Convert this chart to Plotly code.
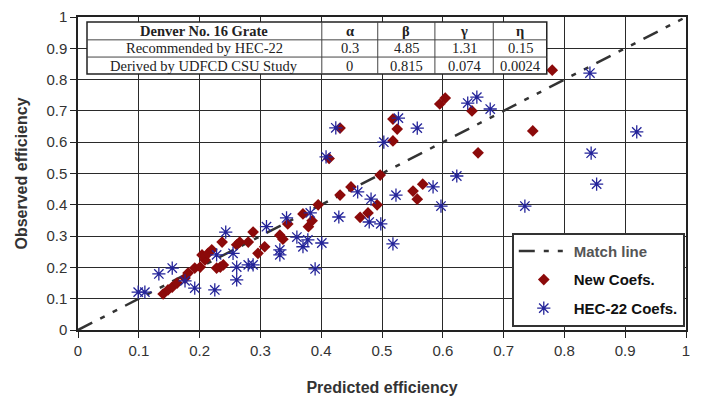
import plotly.graph_objects as go

# ---------------- data ----------------
new_x = [0.140, 0.148, 0.155, 0.163, 0.176, 0.181, 0.192, 0.201, 0.209, 0.204,
         0.214, 0.220, 0.228, 0.234, 0.239, 0.237, 0.261, 0.266, 0.280, 0.288,
         0.296, 0.307, 0.332, 0.337, 0.345, 0.370, 0.379, 0.385, 0.395, 0.413,
         0.431, 0.431, 0.449, 0.464, 0.477, 0.492, 0.497, 0.518, 0.518, 0.525,
         0.551, 0.558, 0.567, 0.595, 0.604, 0.648, 0.658, 0.748, 0.780]
new_y = [0.115, 0.128, 0.137, 0.150, 0.166, 0.182, 0.198, 0.201, 0.224, 0.240,
         0.245, 0.256, 0.198, 0.201, 0.208, 0.281, 0.272, 0.281, 0.281, 0.313,
         0.245, 0.266, 0.303, 0.290, 0.339, 0.371, 0.330, 0.349, 0.400, 0.548,
         0.645, 0.431, 0.457, 0.360, 0.374, 0.400, 0.495, 0.604, 0.674, 0.642,
         0.444, 0.418, 0.466, 0.722, 0.741, 0.700, 0.566, 0.636, 0.830]

hec_x = [0.099, 0.110, 0.133, 0.155, 0.176, 0.192, 0.225, 0.228, 0.243, 0.255,
         0.261, 0.261, 0.280, 0.288, 0.310, 0.332, 0.332, 0.343, 0.360, 0.370,
         0.378, 0.382, 0.390, 0.401, 0.408, 0.424, 0.429, 0.460, 0.479, 0.482,
         0.498, 0.503, 0.518, 0.523, 0.527, 0.558, 0.584, 0.597, 0.623, 0.641,
         0.656, 0.678, 0.735, 0.842, 0.844, 0.853, 0.919]
hec_y = [0.121, 0.121, 0.179, 0.198, 0.157, 0.134, 0.128, 0.240, 0.313, 0.245,
         0.201, 0.160, 0.208, 0.208, 0.330, 0.256, 0.240, 0.358, 0.297, 0.266,
         0.288, 0.374, 0.195, 0.278, 0.553, 0.646, 0.361, 0.441, 0.345, 0.418,
         0.339, 0.600, 0.275, 0.431, 0.677, 0.645, 0.457, 0.396, 0.492, 0.725,
         0.744, 0.706, 0.396, 0.821, 0.565, 0.466, 0.633]

match_x = [0, 1]
match_y = [0, 1]

tick_vals = [0, 0.1, 0.2, 0.3, 0.4, 0.5, 0.6, 0.7, 0.8, 0.9, 1]
tick_text = ["0", "0.1", "0.2", "0.3", "0.4", "0.5", "0.6", "0.7", "0.8", "0.9", "1"]

table_header = ["Denver No. 16 Grate", "α", "β", "γ", "η"]
table_row1 = ["Recommended by HEC-22", "0.3", "4.85", "1.31", "0.15"]
table_row2 = ["Derived by UDFCD CSU Study", "0", "0.815", "0.074", "0.0024"]

# ---------------- figure ----------------
fig = go.Figure()

fig.add_trace(go.Scatter(
    x=match_x, y=match_y, mode="lines",
    name="<b><span style='color:#555'>Match line</span></b>",
    line=dict(color="#333333", width=2.5, dash="16px,9px,5px,9px,5px,9px"),
    legendgroup="a", hoverinfo="skip"))

fig.add_trace(go.Scatter(
    x=new_x, y=new_y, mode="markers", name="<b>New Coefs.</b>",
    marker=dict(symbol="diamond", size=9, color="#8c0a0a"),
    legendgroup="b"))

fig.add_trace(go.Scatter(
    x=hec_x, y=hec_y, mode="markers", name="<b>HEC-22 Coefs.</b>",
    marker=dict(symbol="asterisk-open", size=11, color="#24249a",
                line=dict(color="#24249a", width=1.3)),
    legendgroup="c"))

# ---------------- table (shapes + text) ----------------
col_edges = [0.0148, 0.401, 0.493, 0.587, 0.683, 0.771]
row_edges = [0.984, 0.927, 0.872, 0.818]
shapes = [dict(type="rect", xref="x", yref="y",
               x0=col_edges[0], x1=col_edges[-1], y0=row_edges[-1], y1=row_edges[0],
               fillcolor="white", line=dict(color="#222", width=1.5), layer="above")]
for c in col_edges[1:-1]:
    shapes.append(dict(type="line", xref="x", yref="y", x0=c, x1=c,
                       y0=row_edges[-1], y1=row_edges[0],
                       line=dict(color="#444", width=1), layer="above"))
for r in row_edges[1:-1]:
    shapes.append(dict(type="line", xref="x", yref="y", x0=col_edges[0], x1=col_edges[-1],
                       y0=r, y1=r, line=dict(color="#444", width=1), layer="above"))

annotations = []
rows = [table_header, table_row1, table_row2]
for ri, row in enumerate(rows):
    yc = (row_edges[ri] + row_edges[ri + 1]) / 2
    for ci, txt in enumerate(row):
        xc = (col_edges[ci] + col_edges[ci + 1]) / 2
        t = "<b>%s</b>" % txt if ri == 0 else txt
        annotations.append(dict(x=xc, y=yc, xref="x", yref="y", text=t, showarrow=False,
                                font=dict(family="Liberation Serif, Times New Roman, serif",
                                          size=14.5, color="#222"),
                                xanchor="center", yanchor="middle"))

# page body has an 8px margin, so the figure is sized/offset to land the
# plot area at the reference pixel positions
fig.update_layout(
    width=693, height=392,
    margin=dict(l=70, r=15, t=9, b=70, autoexpand=False),
    paper_bgcolor="white", plot_bgcolor="white",
    showlegend=True,
    legend=dict(x=0.998, y=0.01, xanchor="right", yanchor="bottom",
                bgcolor="white", bordercolor="#333", borderwidth=2,
                font=dict(family="Arial, Liberation Sans, sans-serif", size=15, color="#111"),
                traceorder="grouped", tracegroupgap=6,
                itemwidth=50),
    shapes=shapes,
    annotations=annotations,
    font=dict(family="Arial, Liberation Sans, sans-serif"),
)

axis_common = dict(
    range=[0, 1], tickvals=tick_vals, ticktext=tick_text,
    showgrid=True, gridcolor="#2a2a2a", gridwidth=1.4,
    showline=True, linecolor="#222", linewidth=1.5, mirror=True,
    ticks="outside", ticklen=6, tickcolor="#222", tickwidth=1.3,
    zeroline=False, automargin=False,
    tickfont=dict(family="Arial, Liberation Sans, sans-serif", size=15, color="#333"),
)

fig.update_xaxes(**axis_common,
                 title=dict(text="<b>Predicted efficiency</b>", standoff=24,
                            font=dict(family="Liberation Sans Narrow, Arial Narrow, Arial, sans-serif",
                                      size=16, color="#333")))
fig.update_yaxes(**axis_common,
                 title=dict(text="<b>Observed efficiency</b>", standoff=15,
                            font=dict(family="Liberation Sans Narrow, Arial Narrow, Arial, sans-serif",
                                      size=16, color="#333")))

fig.write_html("out.html")
